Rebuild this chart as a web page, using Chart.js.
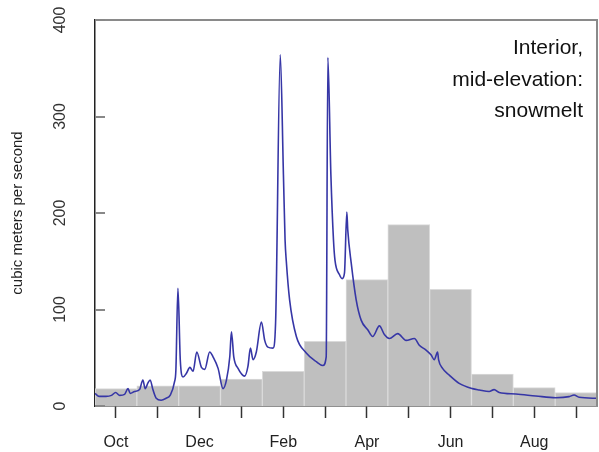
<!DOCTYPE html>
<html>
<head>
<meta charset="utf-8">
<script src="https://cdn.jsdelivr.net/npm/chart.js@4"></script>
<style>
  html, body { margin: 0; padding: 0; background: #fff; }
  #chart { display: block; }
</style>
</head>
<body>
<canvas id="chart" width="599" height="452"></canvas>
<script>
// water year months and monthly mean flow (bars)
const months = ['Oct', 'Nov', 'Dec', 'Jan', 'Feb', 'Mar', 'Apr', 'May', 'Jun', 'Jul', 'Aug', 'Sep'];
const monthMean = [18, 21, 21, 28, 36, 67, 131, 188, 121, 33, 19, 14];

// daily flow trace, day of water year vs cubic meters per second
const flowDay = [0, 3, 8, 12, 15, 18, 21.5, 24, 25.6, 28.8, 32.4, 34.8, 36.5, 38.5, 40.1, 42.1, 44.5, 48.1, 51.7, 54.6,
  57.8, 58.8, 60.3, 62, 64, 66.5, 69, 71.3, 74, 77.4, 79.8, 83.4, 85.8, 89.5, 93.1, 95.6, 98, 99.2, 100.9, 104,
  108.8, 111.2, 113, 114.9, 117.3, 121, 123.4, 125.7, 129.4, 131.3, 134.7, 137, 138.2, 139.1, 141.5, 146.4, 153.6, 160.9, 165.7, 168.1,
  169.3, 171.5, 173.4, 174.5, 177.8, 179.7, 181.4, 183.1, 183.8, 186.3, 189.9, 193.5, 198.3, 201.9, 206.8, 210.4, 214, 220.1, 226.2, 232.2,
  235.8, 240.7, 244.3, 246.7, 249.1, 249.8, 252.7, 257.6, 264.8, 274.5, 279.4, 286.6, 290.2, 293.9, 306, 320.5, 335, 344.7, 348.3, 352, 365];
const flowValue = [13, 10, 10, 11, 14, 11, 12, 18, 13, 15, 17, 27, 18, 24, 27, 17, 8, 6, 8, 11,
  25, 37, 122, 48, 30, 34, 40, 36, 56, 40, 38, 56, 51, 39, 18, 27, 51, 77, 51, 39,
  31, 41, 60, 48, 56, 87, 68, 61, 60, 86, 364, 240, 172, 150, 110, 72, 55, 46, 42, 51,
  361, 240, 172, 151, 136, 132, 138, 201, 182, 148, 110, 89, 79, 72, 83, 74, 70, 75, 68, 70,
  63, 58, 53, 48, 56, 48, 39, 32, 23.5, 18, 16.6, 15, 17, 14, 12.4, 10.4, 8.6, 9.7, 11.4, 9, 8];

const yTicks = [0, 100, 200, 300, 400];
const noteLines = ['Interior,', 'mid-elevation:', 'snowmelt'];

const FONT = '"Liberation Sans", Arial, Helvetica, sans-serif';

// frame top/right, inward y ticks and the corner note
const decorations = {
  id: 'decorations',
  afterDraw(chart) {
    const { ctx, chartArea: a, scales } = chart;
    ctx.save();
    ctx.strokeStyle = '#8a8a8a';
    ctx.lineWidth = 2;
    ctx.beginPath();
    ctx.moveTo(a.left, a.top);
    ctx.lineTo(a.right, a.top);
    ctx.lineTo(a.right, a.bottom);
    ctx.stroke();

    ctx.strokeStyle = '#888';
    ctx.lineWidth = 2;
    scales.y.ticks.forEach(t => {
      const py = Math.round(scales.y.getPixelForValue(t.value));
      ctx.beginPath();
      ctx.moveTo(a.left, py);
      ctx.lineTo(a.left + 10, py);
      ctx.stroke();
    });

    ctx.fillStyle = '#111';
    ctx.font = '21px ' + FONT;
    ctx.textAlign = 'right';
    ctx.textBaseline = 'alphabetic';
    noteLines.forEach((s, i) => ctx.fillText(s, a.right - 14, a.top + 34 + i * 31.5));
    ctx.restore();
  }
};

new Chart(document.getElementById('chart'), {
  data: {
    labels: months,
    datasets: [
      {
        type: 'line',
        xAxisID: 'x',
        yAxisID: 'y',
        data: flowDay.map((d, i) => ({ x: d, y: flowValue[i] })),
        borderColor: '#3636a6',
        borderWidth: 1.6,
        pointRadius: 0,
        cubicInterpolationMode: 'monotone',
        fill: false
      },
      {
        type: 'bar',
        xAxisID: 'xBar',
        yAxisID: 'y',
        data: monthMean,
        backgroundColor: '#bfbfbf',
        borderColor: '#dadada',
        borderWidth: { top: 1, left: 1, right: 1, bottom: 0 },
        grouped: false,
        barPercentage: 1,
        categoryPercentage: 1
      }
    ]
  },
  options: {
    responsive: false,
    animation: false,
    devicePixelRatio: 1,
    layout: { padding: { left: 0, top: 20, right: 2, bottom: 0 } },
    plugins: { legend: { display: false }, tooltip: { enabled: false } },
    scales: {
      x: {
        type: 'linear',
        min: 0,
        max: 365,
        display: false
      },
      xBar: {
        type: 'category',
        position: 'bottom',
        offset: true,
        afterFit: s => { s.height = 46; s.paddingLeft = 0; s.paddingRight = 0; },
        grid: {
          display: true,
          drawOnChartArea: false,
          drawTicks: true,
          tickLength: 12,
          tickColor: '#333',
          tickWidth: 1.5,
          offset: false
        },
        border: { display: true, color: '#222', width: 1.5 },
        ticks: {
          autoSkip: false,
          maxRotation: 0,
          padding: 15,
          color: '#222',
          font: { family: FONT, size: 16 },
          callback: (v, i) => (i % 2 === 0 ? months[i] : '')
        }
      },
      y: {
        type: 'linear',
        min: 0,
        max: 400,
        afterFit: s => { s.width = 95; s.paddingTop = 0; s.paddingBottom = 0; },
        afterBuildTicks: s => { s.ticks = yTicks.map(v => ({ value: v })); },
        grid: { display: false, drawTicks: false },
        border: { display: true, color: '#222', width: 1.5 },
        ticks: {
          minRotation: 90,
          maxRotation: 90,
          crossAlign: 'center',
          padding: 21,
          color: '#333',
          font: { family: FONT, size: 16 }
        },
        title: {
          display: true,
          text: 'cubic meters per second',
          color: '#222',
          padding: { top: 9, bottom: 0 },
          font: { family: FONT, size: 15 }
        }
      }
    }
  },
  plugins: [decorations]
});
</script>
</body>
</html>
